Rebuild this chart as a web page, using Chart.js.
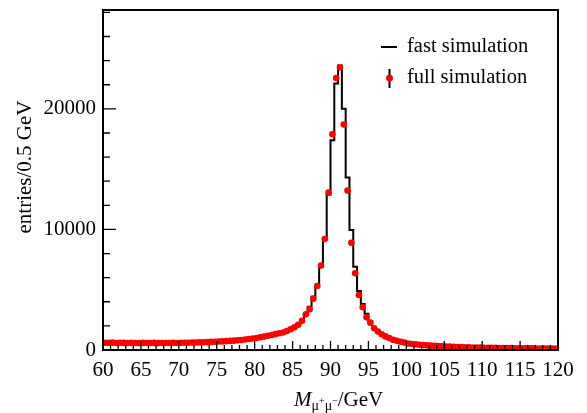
<!DOCTYPE html>
<html>
<head>
<meta charset="utf-8">
<script src="https://cdn.jsdelivr.net/npm/chart.js@4"></script>
<style>
  html, body { margin: 0; padding: 0; background: #fff; }
  #chartBox { width: 587px; height: 413px; }
</style>
</head>
<body>
<div id="chartBox"><canvas id="massChart" width="587" height="413"></canvas></div>
<script>
// Binning of the dimuon mass histogram (GeV)
const xMin = 60;
const xMax = 120;
const binWidth = 0.5;
const yMax = 28200;

const xTickValues = [60, 65, 70, 75, 80, 85, 90, 95, 100, 105, 110, 115, 120];
const yTickValues = [0, 10000, 20000];

// entries per 0.5 GeV bin, 60 -> 120 GeV (120 bins)
const fastSim = [
  590, 600, 585, 595, 580, 590, 585, 575, 590, 580, 575, 585, 590, 575, 580, 570, 585, 590, 580, 590,
  590, 595, 610, 610, 620, 635, 640, 660, 665, 680, 695, 720, 730, 750, 780, 805, 830, 865, 905, 950,
  1000, 1050, 1100, 1165, 1240, 1310, 1390, 1480, 1600, 1760, 1920, 2150, 2500, 2950, 3590, 4420, 5250, 6910, 9270, 12900,
  17400, 22100, 23600, 20000, 14300, 9960, 6910, 4900, 3820, 3000, 2400, 1900, 1600, 1340, 1150, 1000, 870, 770, 690, 620,
  555, 505, 470, 440, 410, 385, 360, 342, 322, 307, 290, 278, 263, 250, 241, 230, 222, 212, 206, 198,
  192, 184, 179, 172, 168, 162, 158, 153, 150, 147, 143, 139, 136, 132, 130, 126, 124, 121, 120, 116
];

const fullSim = [
  600, 590, 610, 580, 600, 590, 575, 595, 585, 570, 590, 580, 575, 590, 570, 585, 580, 575, 595, 585,
  595, 600, 605, 615, 625, 630, 645, 655, 670, 685, 700, 715, 735, 755, 775, 800, 835, 870, 915, 960,
  1000, 1055, 1110, 1175, 1245, 1315, 1385, 1450, 1570, 1720, 1880, 2090, 2430, 2960, 3380, 4260, 5310, 7000, 9210, 13050,
  17900, 22550, 23430, 18700, 13220, 8900, 6360, 4560, 3540, 2710, 2270, 1800, 1530, 1300, 1130, 990, 850, 760, 680, 615,
  545, 500, 470, 435, 410, 380, 362, 340, 322, 305, 292, 276, 262, 251, 240, 231, 220, 213, 205, 198,
  190, 186, 178, 173, 167, 163, 157, 154, 150, 146, 142, 140, 135, 133, 129, 127, 124, 122, 119, 117
];

const serif = "'Liberation Serif', 'DejaVu Serif', serif";

// step line: one point per left bin edge, plus closing point at the upper edge
const fastPoints = fastSim.map((v, i) => ({ x: xMin + i * binWidth, y: v }));
fastPoints.push({ x: xMax, y: fastSim[fastSim.length - 1] });

// markers at bin centres
const fullPoints = fullSim.map((v, i) => ({ x: xMin + (i + 0.5) * binWidth, y: v }));

// Frame, inward ticks, axis titles and legend, drawn on top of the data
const framePlugin = {
  id: 'framePlugin',
  afterDatasetsDraw(chart) {
    const { ctx, chartArea: a, scales } = chart;
    const x = scales.x, y = scales.y;
    ctx.save();
    ctx.strokeStyle = '#000';

    // tick marks pointing into the plot
    ctx.lineWidth = 1.3;
    ctx.beginPath();
    for (let v = xMin; v <= xMax; v += 1) {
      const px = x.getPixelForValue(v);
      const len = v % 5 === 0 ? 9 : 5;
      ctx.moveTo(px, a.bottom);
      ctx.lineTo(px, a.bottom - len);
    }
    for (let v = 0; v <= yMax; v += 2000) {
      const py = y.getPixelForValue(v);
      const len = v % 10000 === 0 ? 13 : 7;
      ctx.moveTo(a.left, py);
      ctx.lineTo(a.left + len, py);
    }
    ctx.stroke();

    ctx.lineWidth = 2;
    ctx.strokeRect(a.left, a.top, a.right - a.left, a.bottom - a.top);

    ctx.fillStyle = '#000';

    // y title
    ctx.save();
    ctx.translate(25, 167);
    ctx.rotate(-Math.PI / 2);
    ctx.font = `21px ${serif}`;
    ctx.textAlign = 'center';
    ctx.textBaseline = 'middle';
    ctx.fillText('entries/0.5 GeV', 0, 0);
    ctx.restore();

    // x title: M_{mu+ mu-}/GeV
    let tx = 294;
    const base = 406;
    ctx.textAlign = 'left';
    ctx.textBaseline = 'alphabetic';
    ctx.font = `italic 21px ${serif}`;
    ctx.fillText('M', tx, base);
    tx += ctx.measureText('M').width;
    ctx.font = `14px ${serif}`;
    ctx.fillText('\u03bc', tx, base + 4);
    tx += ctx.measureText('\u03bc').width;
    ctx.font = `10px ${serif}`;
    ctx.fillText('+', tx, base - 2);
    tx += ctx.measureText('+').width;
    ctx.font = `14px ${serif}`;
    ctx.fillText('\u03bc', tx, base + 4);
    tx += ctx.measureText('\u03bc').width;
    ctx.font = `10px ${serif}`;
    ctx.fillText('\u2212', tx, base - 2);
    tx += ctx.measureText('\u2212').width;
    ctx.font = `21px ${serif}`;
    ctx.fillText('/GeV', tx, base);

    // legend
    ctx.font = `20.5px ${serif}`;
    ctx.textBaseline = 'middle';
    ctx.lineWidth = 2;
    ctx.beginPath();
    ctx.moveTo(381, 47);
    ctx.lineTo(397, 47);
    ctx.moveTo(389.5, 69);
    ctx.lineTo(389.5, 88);
    ctx.stroke();
    ctx.fillText('fast simulation', 407, 47);
    ctx.fillText('full simulation', 407, 78);
    ctx.fillStyle = '#ff0000';
    ctx.beginPath();
    ctx.arc(389.5, 78, 3.5, 0, Math.PI * 2);
    ctx.fill();

    ctx.restore();
  }
};

const chartCtx = document.getElementById('massChart').getContext('2d');
new Chart(chartCtx, {
  type: 'line',
  data: {
    datasets: [
      {
        label: 'full simulation',
        type: 'scatter',
        data: fullPoints,
        showLine: false,
        pointRadius: 3.3,
        pointBackgroundColor: '#ff0000',
        pointBorderWidth: 0,
        order: 0,
      },
      {
        label: 'fast simulation',
        data: fastPoints,
        stepped: true,
        borderColor: '#000',
        borderWidth: 2,
        pointRadius: 0,
        fill: false,
        order: 1,
      },
    ],
  },
  options: {
    responsive: false,
    animation: false,
    devicePixelRatio: 1,
    layout: { padding: { top: 10, right: 29, left: 0, bottom: 0 } },
    plugins: {
      legend: { display: false },
      tooltip: { enabled: false },
    },
    scales: {
      x: {
        type: 'linear',
        min: xMin,
        max: xMax,
        grid: { display: false, drawTicks: false },
        border: { display: false },
        afterBuildTicks: (scale) => { scale.ticks = xTickValues.map(v => ({ value: v })); },
        afterFit: (scale) => {
          scale.height = 63;
          scale.paddingLeft = 0;
          scale.paddingRight = 0;
        },
        ticks: {
          autoSkip: false,
          maxRotation: 0,
          padding: 8,
          color: '#000',
          font: { family: serif, size: 21 },
          callback: (v) => String(v),
        },
      },
      y: {
        min: 0,
        max: yMax,
        grid: { display: false, drawTicks: false },
        border: { display: false },
        afterBuildTicks: (scale) => { scale.ticks = yTickValues.map(v => ({ value: v })); },
        afterFit: (scale) => {
          scale.width = 103;
          scale.paddingTop = 0;
          scale.paddingBottom = 0;
        },
        ticks: {
          padding: 7,
          color: '#000',
          font: { family: serif, size: 21 },
          callback: (v) => String(v),
        },
      },
    },
  },
  plugins: [framePlugin],
});
</script>
</body>
</html>
